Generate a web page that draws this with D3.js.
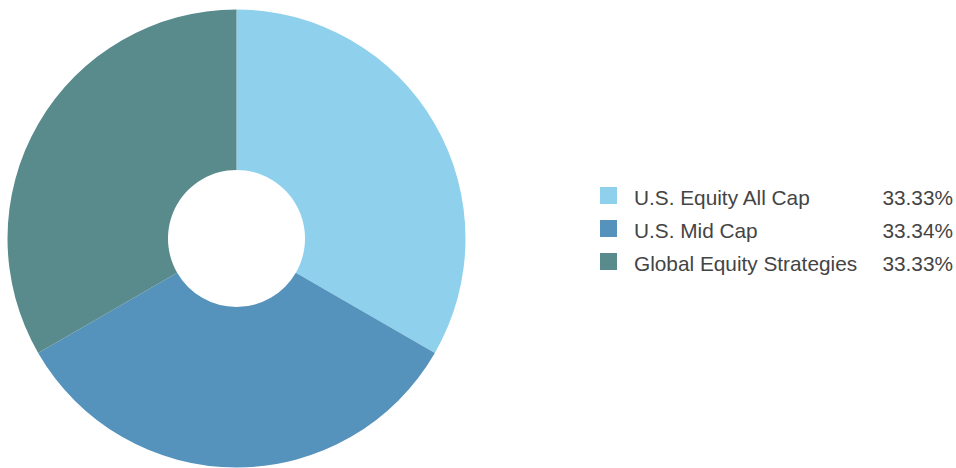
<!DOCTYPE html>
<html>
<head>
<meta charset="utf-8">
<script src="https://cdn.jsdelivr.net/npm/d3@7"></script>
<style>
  html, body { margin: 0; padding: 0; background: #fff; }
  svg { display: block; }
</style>
</head>
<body>
<svg id="chart" width="956" height="468"></svg>
<script>
const categories = ["U.S. Equity All Cap", "U.S. Mid Cap", "Global Equity Strategies"];
const values = [33.33, 33.34, 33.33];
const colors = ["#8fd1ec", "#5593bd", "#5a8b8c"];
const valueLabels = ["33.33%", "33.34%", "33.33%"];

const svg = d3.select("#chart");
const cx = 236.5, cy = 238.5, outerR = 229, innerR = 68.5;

const data = categories.map((c, i) => ({ name: c, value: values[i], color: colors[i], label: valueLabels[i] }));

const pie = d3.pie().value(d => d.value).sort(null);
const arc = d3.arc().innerRadius(innerR).outerRadius(outerR);

svg.append("g")
  .attr("transform", `translate(${cx},${cy})`)
  .selectAll("path")
  .data(pie(data))
  .join("path")
  .attr("d", arc)
  .attr("fill", d => d.data.color);

// Legend: one row per slice, baseline positions from a point scale
const legendY = d3.scalePoint().domain(categories).range([204.5, 270.5]);
const legend = svg.append("g")
  .attr("font-family", "'Liberation Sans', Arial, sans-serif")
  .attr("font-size", 20.8)
  .attr("fill", "#444");

const rows = legend.selectAll("g")
  .data(data)
  .join("g")
  .attr("transform", d => `translate(0,${legendY(d.name)})`);

rows.append("rect")
  .attr("x", 600).attr("y", -17.5)
  .attr("width", 17).attr("height", 17)
  .attr("fill", d => d.color);

rows.append("text")
  .attr("x", 634)
  .text(d => d.name);

rows.append("text")
  .attr("x", 953)
  .attr("text-anchor", "end")
  .text(d => d.label);
</script>
</body>
</html>
